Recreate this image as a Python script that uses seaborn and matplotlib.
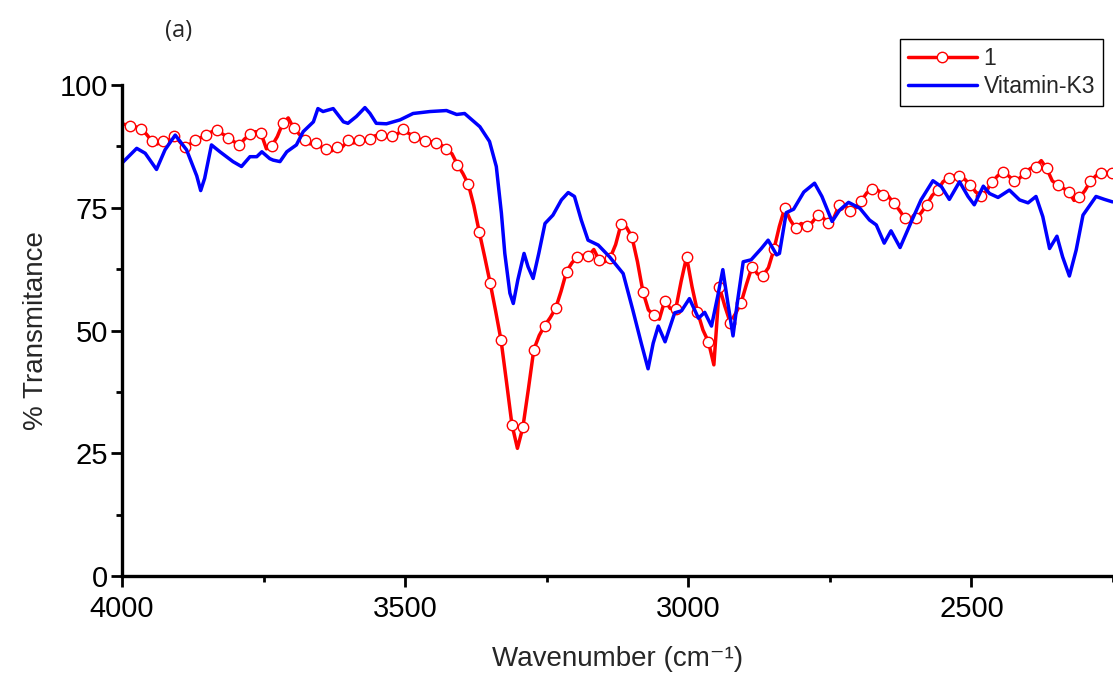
import numpy as np
import pandas as pd
import matplotlib
matplotlib.use("Agg")
import matplotlib.pyplot as plt
import seaborn as sns

# ---- data ----
# sample "1": evenly sampled spectrum starting at 3995.5 cm-1, step 9.636 cm-1
red_start = 3995.5
red_step = 9.636
red_t = [
    92.0, 91.6, 91.5, 91.0, 90.0, 88.6, 88.0, 88.5, 88.7, 89.6,
    88.6, 87.3, 88.0, 88.7, 89.3, 89.8, 90.5, 90.8, 90.0, 89.3,
    88.5, 87.8, 89.0, 90.0, 90.5, 90.2, 87.0, 87.6, 89.5, 92.2,
    93.3, 91.2, 90.0, 88.7, 88.0, 88.1, 87.4, 86.9, 86.6, 87.3,
    87.5, 88.7, 88.2, 88.9, 88.6, 89.1, 89.7, 89.8, 89.5, 89.6,
    90.0, 91.0, 90.2, 89.5, 89.0, 88.6, 88.5, 88.2, 87.8, 87.0,
    86.0, 83.8, 82.0, 79.8, 75.5, 70.1, 65.0, 59.7, 54.0, 48.0,
    39.5, 30.8, 26.0, 30.3, 38.0, 46.1, 49.0, 51.0, 52.6, 54.5,
    58.0, 62.0, 63.8, 65.0, 65.3, 65.2, 66.5, 64.3, 64.0, 64.8,
    67.5, 71.7, 71.0, 69.0, 64.0, 57.9, 54.2, 53.1, 52.3, 56.1,
    54.5, 54.3, 60.0, 65.0, 58.9, 53.8, 50.1, 47.7, 43.0, 58.9,
    55.0, 51.6, 53.5, 55.7, 59.5, 63.0, 61.5, 61.2, 62.8, 66.5,
    71.2, 75.0, 72.5, 70.8, 71.8, 71.3, 72.0, 73.5, 73.0, 71.8,
    73.0, 75.6, 75.5, 74.3, 75.0, 76.4, 78.0, 78.8, 78.6, 77.7,
    77.3, 75.9, 74.5, 72.9, 72.5, 72.9, 74.0, 75.6, 77.5, 78.6,
    80.3, 81.1, 81.5, 81.5, 80.8, 79.6, 78.2, 77.4, 78.5, 80.3,
    81.5, 82.3, 81.5, 80.5, 81.0, 82.1, 83.0, 83.4, 84.6, 83.0,
    80.5, 79.6, 79.0, 78.3, 76.5, 77.1, 78.5, 80.4, 81.5, 82.1,
    82.2, 82.0,
]
red_wn = red_start - red_step * np.arange(len(red_t))

# Vitamin-K3
blue_wn = [
    4000, 3974, 3959, 3939, 3924, 3906, 3886, 3868, 3861, 3854,
    3842, 3827, 3804, 3789, 3774, 3762, 3753, 3739, 3733, 3721,
    3709, 3692, 3680, 3662, 3654, 3645, 3636, 3627, 3609, 3601,
    3586, 3571, 3562, 3551, 3533, 3509, 3486, 3456, 3427, 3409,
    3395, 3368, 3351, 3339, 3330, 3324, 3315, 3309, 3301, 3290,
    3283, 3274, 3264, 3253, 3239, 3224, 3212, 3201, 3189, 3177,
    3159, 3139, 3115, 3098, 3083, 3071, 3062, 3053, 3041, 3024,
    3012, 2998, 2982, 2971, 2959, 2948, 2939, 2930, 2921, 2913,
    2903, 2889, 2871, 2859, 2844, 2839, 2827, 2814, 2796, 2777,
    2764, 2746, 2733, 2717, 2697, 2680, 2668, 2654, 2642, 2626,
    2606, 2589, 2568, 2553, 2539, 2521, 2506, 2495, 2479, 2468,
    2453, 2433, 2415, 2400, 2386, 2374, 2362, 2349, 2339, 2327,
    2315, 2303, 2280, 2265, 2251,
]
blue_t = [
    84.1, 87.1, 86.1, 82.8, 86.8, 89.8, 86.8, 81.5, 78.5, 81.0,
    87.8, 86.4, 84.4, 83.4, 85.4, 85.4, 86.4, 85.0, 84.7, 84.4,
    86.4, 87.8, 90.5, 92.5, 95.2, 94.6, 94.9, 95.2, 92.5, 92.2,
    93.6, 95.4, 94.2, 92.2, 92.1, 92.9, 94.2, 94.6, 94.8, 94.0,
    94.2, 91.5, 88.5, 83.4, 73.9, 65.7, 57.6, 55.5, 60.3, 65.7,
    63.0, 60.6, 65.7, 71.8, 73.5, 76.6, 78.1, 77.3, 72.5, 68.4,
    67.4, 65.0, 61.6, 54.2, 47.4, 42.2, 47.4, 50.9, 47.7, 53.6,
    54.0, 56.5, 52.5, 53.7, 50.9, 57.0, 62.4, 55.5, 48.9, 56.0,
    64.0, 64.4, 66.7, 68.4, 65.4, 65.7, 74.0, 74.7, 78.2, 80.0,
    77.3, 72.2, 74.5, 76.1, 74.9, 72.5, 71.5, 67.8, 70.3, 66.9,
    72.2, 76.6, 80.5, 79.3, 76.7, 80.3, 77.3, 75.6, 79.4, 77.9,
    77.1, 78.6, 76.6, 76.0, 77.3, 73.2, 66.7, 69.2, 65.0, 61.1,
    66.4, 73.5, 77.3, 76.7, 76.2,
]

series_names = ["1", "Vitamin-K3"]
x_ticks = [4000, 3500, 3000, 2500]
y_ticks = [0, 25, 50, 75, 100]

red_df = pd.DataFrame({"wn": red_wn, "T": red_t})
blue_df = pd.DataFrame({"wn": blue_wn, "T": blue_t})

# ---- style ----
sns.set_style("ticks")
plt.rcParams["font.family"] = ["Liberation Sans", "DejaVu Sans"]

fig = plt.figure(figsize=(11.13, 6.79), dpi=100)
ax = fig.add_axes([0.1096, 0.1517, 0.8904, 0.7231])

sns.lineplot(data=red_df, x="wn", y="T", ax=ax, sort=False, estimator=None,
             color="#ff0000", linewidth=2.5, marker="o", markevery=(1, 2),
             markersize=7.5, markerfacecolor="white", markeredgecolor="#ff0000",
             markeredgewidth=1.0, label=series_names[0])
sns.lineplot(data=blue_df, x="wn", y="T", ax=ax, sort=False, estimator=None,
             color="#0000ff", linewidth=2.5, label=series_names[1])

ax.set_xlim(4000, 2250)
ax.set_ylim(0, 100)
ax.set_xticks(x_ticks)
ax.set_xticks([3750, 3250, 2750, 2250], minor=True)
ax.set_yticks(y_ticks)
ax.set_yticks([12.5, 37.5, 62.5, 87.5], minor=True)
ax.tick_params(axis="both", which="major", length=8, width=2, direction="out",
               labelsize=21, color="black", labelcolor="black")
ax.tick_params(axis="x", which="major", pad=6)
ax.tick_params(axis="y", which="major", pad=2)
ax.tick_params(axis="both", which="minor", length=4, width=2, direction="out",
               color="black")
for s in ["top", "right"]:
    ax.spines[s].set_visible(False)
for s in ["left", "bottom"]:
    ax.spines[s].set_linewidth(2.4)
    ax.spines[s].set_color("black")

ax.set_xlabel("Wavenumber (cm\u207b\u00b9)", fontsize=20, labelpad=16)
ax.set_ylabel("% Transmitance", fontsize=20, labelpad=8)

handles, labels = ax.get_legend_handles_labels()
leg = ax.legend(handles, labels, loc="upper right", bbox_to_anchor=(0.991, 0.943),
                bbox_transform=fig.transFigure, fontsize=16.5, frameon=True,
                fancybox=False, edgecolor="black", framealpha=1,
                handlelength=3.0, handletextpad=0.3, borderpad=0.35,
                labelspacing=0.22, borderaxespad=0)
leg.get_frame().set_linewidth(1.0)

fig.text(0.148, 0.955, "(a)", fontsize=17, family=["Open Sans", "DejaVu Sans"],
         ha="left", va="center")

fig.savefig("out.png", dpi=100)
